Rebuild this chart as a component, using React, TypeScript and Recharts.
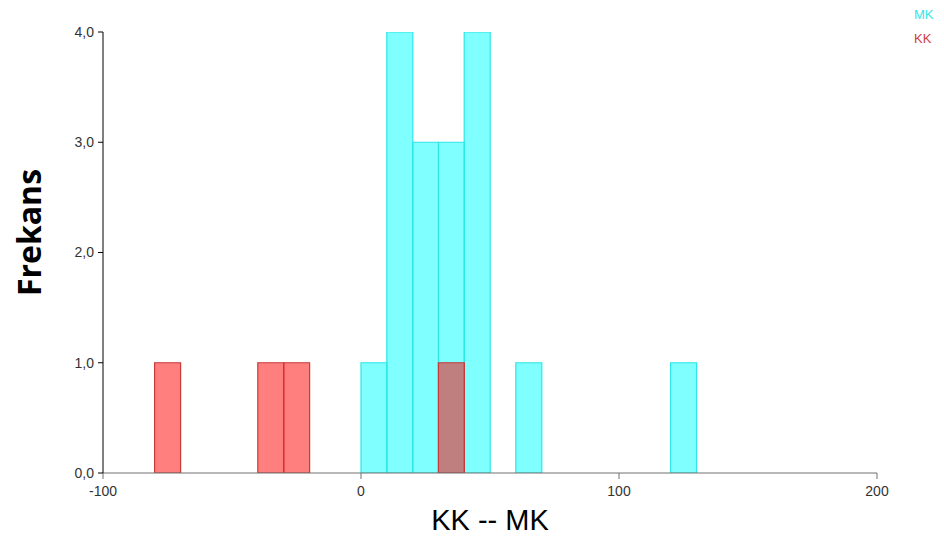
import React from 'react';
import { ComposedChart, Bar, XAxis, YAxis, Label } from 'recharts';

// Histogram bins of width 10 covering -100 .. 200
const binStarts = [
  -100, -90, -80, -70, -60, -50, -40, -30, -20, -10,
  0, 10, 20, 30, 40, 50, 60, 70, 80, 90,
  100, 110, 120, 130, 140, 150, 160, 170, 180, 190,
];
const mkCounts = [
  0, 0, 0, 0, 0, 0, 0, 0, 0, 0,
  1, 4, 3, 3, 4, 0, 1, 0, 0, 0,
  0, 0, 1, 0, 0, 0, 0, 0, 0, 0,
];
const kkCounts = [
  0, 0, 1, 0, 0, 0, 1, 1, 0, 0,
  0, 0, 0, 1, 0, 0, 0, 0, 0, 0,
  0, 0, 0, 0, 0, 0, 0, 0, 0, 0,
];
const xTicks = [-100, 0, 100, 200];
const yTicks = [0, 1, 2, 3, 4];
const seriesNames = ['MK', 'KK'];
const xTitle = 'KK -- MK';
const yTitle = 'Frekans';

const BIN_WIDTH = 10;

const data = binStarts.map((start, i) => ({
  bin: String(start),
  center: start + BIN_WIDTH / 2,
  mk: mkCounts[i] > 0 ? mkCounts[i] : null,
  kk: kkCounts[i] > 0 ? kkCounts[i] : null,
}));

const fmtY = (v: number) => v.toFixed(1).replace('.', ',');

const tickStyle = { fontFamily: 'Liberation Sans, Arial, sans-serif', fontSize: 14, fill: '#333' };

const XTitle = (props: any) => {
  const vb = props.viewBox || { x: 0, y: 0, width: 0, height: 0 };
  return (
    <text
      x={vb.x + vb.width / 2}
      y={vb.y + 57}
      textAnchor="middle"
      fontFamily="Liberation Sans, Arial, sans-serif"
      fontSize={29}
      fill="#000"
    >
      {xTitle}
    </text>
  );
};

const YTitle = (props: any) => {
  const vb = props.viewBox || { x: 0, y: 0, width: 0, height: 0 };
  const x = vb.x + 41;
  const y = vb.y + vb.height / 2 - 20;
  return (
    <text
      x={x}
      y={y}
      transform={`rotate(-90, ${x}, ${y})`}
      textAnchor="middle"
      fontFamily="Open Sans, sans-serif"
      fontWeight={700}
      fontSize={32}
      fill="#000"
    >
      {yTitle}
    </text>
  );
};

export default function App() {
  return (
    <div style={{ position: 'absolute', left: 0, top: 0, width: 944, height: 542, background: '#fff' }}>
      <ComposedChart
        width={944}
        height={542}
        data={data}
        margin={{ top: 32, right: 67, bottom: 29, left: 0 }}
        barCategoryGap={0}
        barGap={0}
      >
        <XAxis xAxisId="mk" dataKey="bin" type="category" hide height={0} />
        <XAxis xAxisId="kk" dataKey="bin" type="category" hide height={0} />
        <XAxis
          xAxisId="value"
          dataKey="center"
          type="number"
          domain={[-100, 200]}
          ticks={xTicks}
          allowDataOverflow
          height={40}
          tickSize={6}
          tickMargin={7}
          stroke="#707070"
          tick={tickStyle}
          interval={0}
        >
          <Label content={XTitle} />
        </XAxis>
        <YAxis
          width={103}
          domain={[0, 4]}
          ticks={yTicks}
          allowDataOverflow
          tickFormatter={fmtY}
          tickSize={5}
          tickMargin={4}
          stroke="#000"
          tick={tickStyle}
          interval={0}
        >
          <Label content={YTitle} />
        </YAxis>
        <Bar
          xAxisId="mk"
          dataKey="mk"
          name={seriesNames[0]}
          fill="#00ffff"
          fillOpacity={0.5}
          stroke="#2ee6e6"
          strokeWidth={1.2}
          isAnimationActive={false}
        />
        <Bar
          xAxisId="kk"
          dataKey="kk"
          name={seriesNames[1]}
          fill="#ff0000"
          fillOpacity={0.5}
          stroke="#c83a3a"
          strokeWidth={1.2}
          isAnimationActive={false}
        />
      </ComposedChart>
      <div
        style={{
          position: 'absolute',
          left: 914,
          top: 3,
          fontFamily: 'Liberation Sans, Arial, sans-serif',
          fontSize: 13,
          lineHeight: '24px',
        }}
      >
        <div style={{ color: '#33e6e6' }}>{seriesNames[0]}</div>
        <div style={{ color: '#d43c3c' }}>{seriesNames[1]}</div>
      </div>
    </div>
  );
}
